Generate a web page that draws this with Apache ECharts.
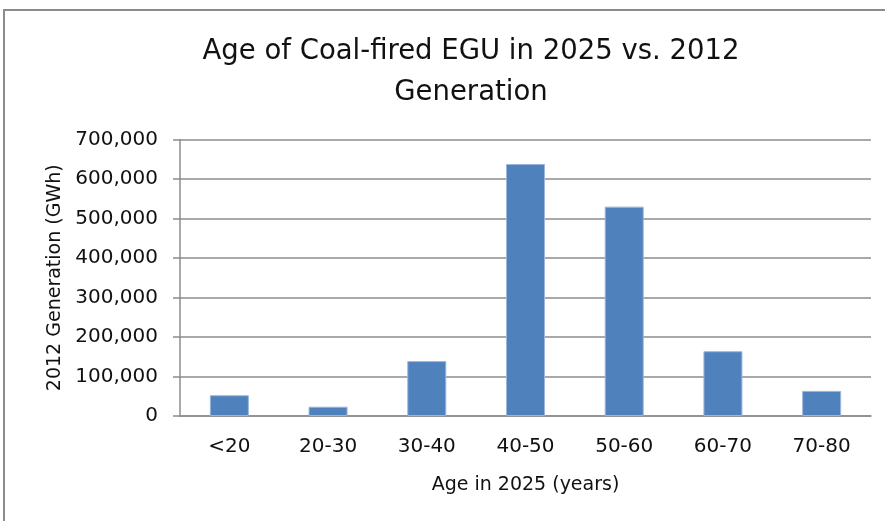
<!DOCTYPE html>
<html>
<head>
<meta charset="utf-8">
<script src="https://cdn.jsdelivr.net/npm/echarts@6/dist/echarts.min.js"></script>
<style>
  html, body { margin: 0; padding: 0; background: #fff; }
  #Chartbar { width: 885px; height: 521px; }
</style>
</head>
<body>
<div id="Chartbar"></div>
<script>
var categories = ['<20', '20-30', '30-40', '40-50', '50-60', '60-70', '70-80'];
var generation = [52500, 23500, 139000, 638000, 530000, 164000, 63500]; // GWh
var yTicks = [0, 100000, 200000, 300000, 400000, 500000, 600000, 700000];

window.onload = () => {
    var myChart = echarts.init(document.getElementById('Chartbar'));
    var font = 'DejaVu Sans';
    myChart.setOption({
        animation: false,
        title: {
            text: 'Age of Coal-fired EGU in 2025 vs. 2012\nGeneration',
            left: 471,
            top: 31,
            padding: 0,
            textAlign: 'center',
            textStyle: {
                fontFamily: font,
                fontSize: 27.5,
                fontWeight: 'normal',
                color: '#111',
                lineHeight: 41
            }
        },
        graphic: [{
            type: 'rect',
            shape: { x: 4, y: 10, width: 900, height: 540 },
            style: { fill: 'none', stroke: '#8c8c8c', lineWidth: 2 },
            silent: true
        }],
        grid: {
            left: 180,
            right: 14,
            top: 139.5,
            bottom: 105
        },
        xAxis: {
            type: 'category',
            data: categories,
            name: 'Age in 2025 (years)',
            nameLocation: 'middle',
            nameGap: 60,
            nameTextStyle: { fontFamily: font, fontSize: 19, color: '#111', verticalAlign: 'top' },
            axisLine: { lineStyle: { color: '#8c8c8c', width: 1.5 } },
            axisTick: { show: false },
            axisLabel: { fontFamily: font, fontSize: 20, color: '#111', margin: 21 }
        },
        yAxis: {
            type: 'value',
            min: yTicks[0],
            max: yTicks[yTicks.length - 1],
            interval: 100000,
            name: '2012 Generation (GWh)',
            nameLocation: 'middle',
            nameGap: 113,
            nameTextStyle: { fontFamily: font, fontSize: 19, color: '#111' },
            axisLine: { show: true, lineStyle: { color: '#8c8c8c', width: 1.5 } },
            axisTick: { show: true, length: 7, lineStyle: { color: '#8c8c8c', width: 1.5 } },
            splitLine: { lineStyle: { color: '#8c8c8c', width: 1.5 } },
            axisLabel: {
                fontFamily: font, fontSize: 20, color: '#111', margin: 22,
                formatter: function (v) { return v.toLocaleString('en-US'); }
            }
        },
        series: [{
            name: '2012 Generation',
            type: 'bar',
            barWidth: 39,
            itemStyle: { color: '#4f81bd', borderColor: '#9bb5db', borderWidth: 1 },
            data: generation
        }]
    });
};
</script>
</body>
</html>
